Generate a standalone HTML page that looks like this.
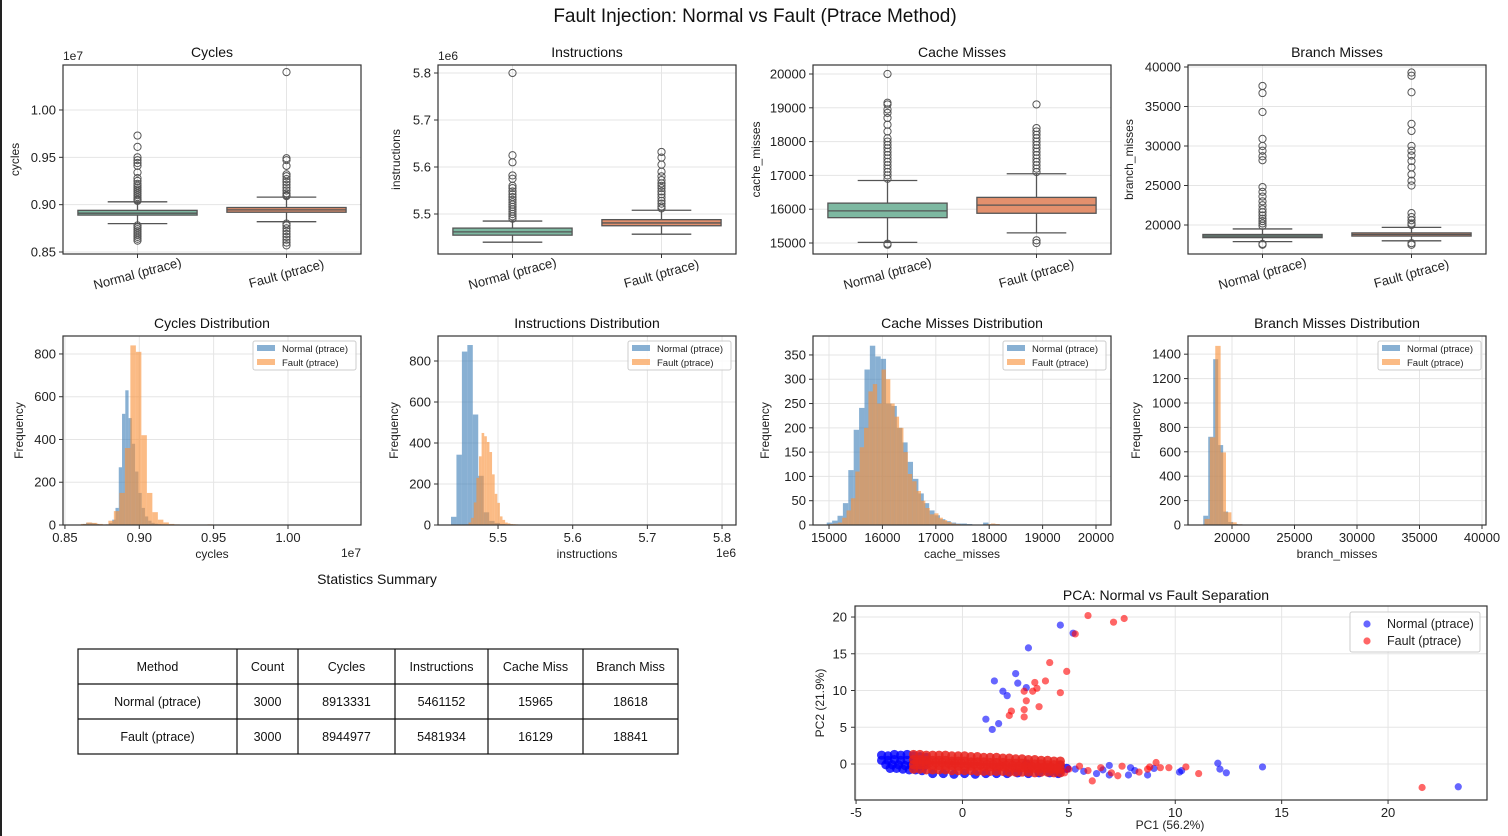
<!DOCTYPE html>
<html><head><meta charset="utf-8"><style>
body{margin:0;background:#fff;}
svg{display:block;font-family:"Liberation Sans",sans-serif;}
</style></head><body>
<svg id="chart" width="1508" height="836" viewBox="0 0 1508 836" xmlns="http://www.w3.org/2000/svg">
<rect x="0" y="0" width="1508" height="836" fill="#fff"/>
<rect x="0" y="0" width="2" height="836" fill="#222"/>
<text x="755" y="22" font-size="19" text-anchor="middle" fill="#111">Fault Injection: Normal vs Fault (Ptrace Method)</text>
<text x="377" y="584" font-size="14" text-anchor="middle" fill="#111">Statistics Summary</text>
</svg>
<script>
// ---------- DATA ----------
const boxTitles = ['Cycles','Instructions','Cache Misses','Branch Misses'];
const boxYLabels = ['cycles','instructions','cache_misses','branch_misses'];
const boxCategories = ['Normal (ptrace)','Fault (ptrace)'];
// [whiskerLow, q1, median, q3, whiskerHigh]
const cyclesNormalBox = [0.880,0.889,0.891,0.894,0.903];
const cyclesFaultBox = [0.882,0.892,0.8945,0.897,0.908];
const instrNormalBox = [5.440,5.455,5.462,5.470,5.485];
const instrFaultBox = [5.457,5.475,5.481,5.488,5.508];
const cacheNormalBox = [15020,15750,15950,16180,16850];
const cacheFaultBox = [15300,15880,16120,16350,17050];
const branchNormalBox = [17900,18400,18600,18800,19500];
const branchFaultBox = [18000,18600,18800,19000,19700];
const cyclesNormalOut = [0.973,0.961,0.950,0.947,0.944,0.941,0.934,0.928,0.925,0.922,0.920,0.918,0.916,0.914,0.912,0.910,0.908,0.906,0.905,0.904,0.878,0.876,0.874,0.872,0.870,0.868,0.866,0.864,0.862];
const cyclesFaultOut = [1.040,0.949,0.947,0.941,0.932,0.930,0.927,0.924,0.921,0.918,0.915,0.912,0.910,0.909,0.880,0.878,0.875,0.872,0.869,0.866,0.863,0.860,0.857];
const instrNormalOut = [5.800,5.625,5.610,5.582,5.575,5.560,5.555,5.548,5.542,5.536,5.530,5.525,5.520,5.515,5.510,5.505,5.500,5.495,5.490];
const instrFaultOut = [5.632,5.620,5.605,5.590,5.580,5.572,5.565,5.560,5.555,5.548,5.542,5.535,5.528,5.522,5.516,5.512];
const cacheNormalOut = [20000,19150,19100,18950,18850,18700,18500,18300,18100,18000,17900,17800,17700,17600,17500,17400,17300,17200,17100,17000,16900,14980,14950];
const cacheFaultOut = [19100,18400,18300,18200,18100,18000,17900,17800,17700,17600,17500,17400,17300,17200,17100,15080,15000];
const branchNormalOut = [37600,36700,34300,30900,30000,29400,28700,28200,24800,24200,23600,23000,22500,22000,21600,21200,20800,20500,20200,19900,17600,17500];
const branchFaultOut = [39300,38900,36800,32800,31900,30000,29400,28800,28100,27300,26400,25600,25000,21500,21000,20600,20200,20000,17700,17500];
const cyclesBoxTicks = [0.85,0.90,0.95,1.00];
const instrBoxTicks = [5.5,5.6,5.7,5.8];
const cacheBoxTicks = [15000,16000,17000,18000,19000,20000];
const branchBoxTicks = [20000,25000,30000,35000,40000];

const histTitles = ['Cycles Distribution','Instructions Distribution','Cache Misses Distribution','Branch Misses Distribution'];
const histSeriesNames = ['Normal (ptrace)','Fault (ptrace)'];
// [binStart, binWidth]
const cyclesNormalBins = [0.862,0.0022];
const cyclesNormalCounts = [5,10,10,8,5,3,2,3,10,25,80,270,520,630,500,380,250,150,80,40,20,10,6,4,3,2,2,1,1,1,0,0,0,0,0,0,0,0,1,0,1,0,0,0,0,0,0,0,0,1];
const cyclesFaultBins = [0.857,0.0037];
const cyclesFaultCounts = [0,5,12,10,5,3,20,65,150,360,840,810,420,150,60,25,12,5,3,2,1,1,1,2,3,1,0,0,0,0,0,0,0,0,0,0,0,0,0,0,0,0,0,0,0,0,0,0,0,1];
const instrNormalBins = [5.437,0.0073];
const instrNormalCounts = [40,343,846,878,539,240,62,20,10,5,3,2,1,1,1,1,1,0,1,0,0,0,1,0,0,0,0,0,0,0,0,0,0,0,0,0,0,0,0,0,0,0,0,0,0,0,0,0,0,1];
const instrFaultBins = [5.457,0.0035];
const instrFaultCounts = [3,12,35,110,230,335,449,433,405,356,247,152,108,42,25,12,8,5,4,3,2,2,1,1,1,1,1,1,0,1,0,0,0,1,0,0,0,0,1,0,0,0,0,0,0,0,0,0,0,1];
const cacheNormalBins = [14957,101];
const cacheNormalCounts = [5,9,19,45,113,196,241,320,369,347,342,250,245,200,170,130,95,65,45,30,20,12,8,5,3,3,2,1,1,5,1,0,0,0,0,0,0,0,0,0,1,0,0,0,0,0,0,0,0,1];
const cacheFaultBins = [15000,82];
const cacheFaultCounts = [2,3,5,15,30,55,110,160,200,275,290,250,320,300,250,223,200,150,105,90,70,50,35,22,24,15,10,6,3,2,1,1,1,1,1,1,2,3,2,1,1,0,0,0,0,0,0,0,0,1];
const branchNormalBins = [17700,398];
const branchNormalCounts = [76,723,1359,655,110,25,8,5,4,3,2,2,2,2,1,1,1,1,1,1,0,0,1,0,0,1,1,0,1,1,0,1,0,0,0,0,1,0,0,0,0,0,1,0,1,0,0,0,0,1];
const branchFaultBins = [17800,430];
const branchFaultCounts = [50,718,1468,595,104,22,6,4,3,2,2,2,1,1,1,1,1,1,1,1,0,1,0,1,1,1,0,1,1,0,0,1,0,0,0,0,0,0,0,0,0,0,0,0,0,0,1,0,0,1];
const cyclesHistXTicks = [0.85,0.90,0.95,1.00];
const instrHistXTicks = [5.5,5.6,5.7,5.8];
const cacheHistXTicks = [15000,16000,17000,18000,19000,20000];
const branchHistXTicks = [20000,25000,30000,35000,40000];
const cyclesHistYTicks = [0,200,400,600,800];
const instrHistYTicks = [0,200,400,600,800];
const cacheHistYTicks = [0,50,100,150,200,250,300,350];
const branchHistYTicks = [0,200,400,600,800,1000,1200,1400];

const tableHeader = ['Method','Count','Cycles','Instructions','Cache Miss','Branch Miss'];
const tableNormalRow = ['Normal (ptrace)','3000','8913331','5461152','15965','18618'];
const tableFaultRow = ['Fault (ptrace)','3000','8944977','5481934','16129','18841'];

const pcaXTicks = [-5,0,5,10,15,20];
const pcaYTicks = [0,5,10,15,20];
const pcaNormalOutlierCount = 31;
const pcaNormalX = [4.6,5.2,3.1,2.5,2.6,1.5,3.0,1.9,2.1,1.1,1.7,1.4,12.0,12.1,12.4,14.1,10.2,10.3,9.0,8.7,7.8,7.9,6.9,6.9,6.3,5.7,5.3,4.5,23.3,8.1,6.6,
 -3.8,-3.5,-3.2,-2.9,-2.6,-2.3,-2.0,-1.7,-3.8,-3.5,-3.2,-2.9,-2.6,-2.3,-2.0,-1.7,-3.6,-3.3,-3.0,-2.7,-2.4,-2.1,-1.8,-3.4,-3.1,-2.8,-2.5,-2.2,-1.9,
 -1.4,-0.9,-0.4,0.1,0.6,1.1,1.6,2.1,2.6,3.1,3.6,4.1,4.5,4.6,4.9,3.0,4.6];
const pcaNormalY = [18.9,17.8,15.8,12.3,11.0,11.3,10.4,9.9,9.3,6.1,5.5,4.7,0.1,-0.7,-1.2,-0.4,-1.1,-0.9,-0.6,-1.5,-1.5,-0.5,-1.5,-0.2,-1.3,-1.0,-0.7,-1.3,-3.1,-0.9,-0.8,
 1.2,1.1,1.3,1.2,1.3,1.1,1.0,0.9,0.5,0.5,0.6,0.5,0.5,0.4,0.3,0.3,-0.1,-0.1,-0.1,-0.2,-0.2,-0.3,-0.3,-0.6,-0.6,-0.7,-0.8,-0.8,-0.9,
 -1.3,-1.3,-1.4,-1.3,-1.4,-1.3,-1.3,-1.3,-1.2,-1.3,-1.2,-1.2,-1.3,-0.2,-0.6,0.0,-0.8];
const pcaFaultOutlierCount = 36;
const pcaFaultX = [5.9,7.1,7.6,5.3,4.1,4.9,3.4,3.9,3.3,3.5,2.9,3.0,4.6,3.6,2.9,2.9,2.3,2.2,21.6,11.1,10.5,9.7,9.3,9.1,8.8,8.7,8.3,7.5,7.3,7.0,6.1,6.5,5.9,5.5,5.0,4.8,
 -2.3,-2.0,-1.7,-1.4,-1.1,-0.8,-0.5,-0.2,0.1,0.4,0.7,1.0,1.3,1.6,1.9,2.2,2.5,2.8,3.1,3.4,3.7,4.0,4.3,4.6,
 -2.3,-2.0,-1.7,-1.4,-1.1,-0.8,-0.5,-0.2,0.1,0.4,0.7,1.0,1.3,1.6,1.9,2.2,2.5,2.8,3.1,3.4,3.7,4.0,4.3,4.6,
 -2.3,-2.0,-1.7,-1.4,-1.1,-0.8,-0.5,-0.2,0.1,0.4,0.7,1.0,1.3,1.6,1.9,2.2,2.5,2.8,3.1,3.4,3.7,4.0,4.3,4.6,
 -2.3,-2.0,-1.7,-1.4,-1.1,-0.8,-0.5,-0.2,0.1,0.4,0.7,1.0,1.3,1.6,1.9,2.2,2.5,2.8,3.1,3.4,3.7,4.0,4.3,4.6,
 -2.15,-1.85,-1.55,-1.25,-0.95,-0.65,-0.35,-0.05,0.25,0.55,0.85,1.15,1.45,1.75,2.05,2.35,2.65,2.95,3.25,3.55,3.85,4.15,4.45];
const pcaFaultY = [20.2,19.3,19.8,17.7,13.8,12.6,11.1,11.3,9.9,10.3,9.9,8.6,9.7,7.8,7.4,6.4,7.2,6.6,-3.2,-1.3,-0.4,-0.5,-0.5,0.2,-0.4,-0.7,-1.1,-0.3,-1.6,-1.2,-2.3,-0.5,-0.9,-0.3,-0.7,-1.2,
 1.3,1.3,1.2,1.2,1.2,1.2,1.1,1.1,1.1,1.0,1.0,0.9,0.9,0.9,0.8,0.8,0.7,0.7,0.6,0.6,0.5,0.5,0.4,0.4,
 0.6,0.6,0.5,0.5,0.5,0.5,0.4,0.4,0.4,0.3,0.3,0.3,0.2,0.2,0.2,0.1,0.1,0.1,0.0,0.0,0.0,-0.1,-0.1,-0.1,
 -0.1,-0.1,-0.1,-0.2,-0.2,-0.2,-0.2,-0.3,-0.3,-0.3,-0.3,-0.4,-0.4,-0.4,-0.4,-0.5,-0.5,-0.5,-0.6,-0.6,-0.6,-0.6,-0.7,-0.7,
 -0.7,-0.7,-0.8,-0.8,-0.8,-0.8,-0.9,-0.9,-0.9,-0.9,-1.0,-1.0,-1.0,-1.0,-1.0,-1.1,-1.1,-1.1,-1.1,-1.2,-1.1,-1.1,-1.2,-1.2,
 0.3,0.3,0.2,0.2,0.2,0.1,0.1,0.1,0.0,0.0,-0.1,-0.1,-0.1,-0.2,-0.2,-0.2,-0.3,-0.3,-0.3,-0.4,-0.4,-0.4,-0.5];

// ---------- LAYOUT ----------
const NS = 'http://www.w3.org/2000/svg';
const svg = document.getElementById('chart');
function mk(tag, attrs, parent){const e=document.createElementNS(NS,tag);for(const k in attrs)e.setAttribute(k,attrs[k]);(parent||svg).appendChild(e);return e;}
function lin(d0,d1,r0,r1){return v=>r0+(v-d0)/(d1-d0)*(r1-r0);}
const panelLefts = [63,438,813,1188];
const PW = 298;
const boxLim = [[0.8479,1.0475],[5.4149,5.817],[14675,20266],[16329,40253]];
const boxData = [
 [cyclesNormalBox,cyclesFaultBox,cyclesNormalOut,cyclesFaultOut,cyclesBoxTicks,v=>v.toFixed(2),'1e7'],
 [instrNormalBox,instrFaultBox,instrNormalOut,instrFaultOut,instrBoxTicks,v=>v.toFixed(1),'1e6'],
 [cacheNormalBox,cacheFaultBox,cacheNormalOut,cacheFaultOut,cacheBoxTicks,v=>String(v),''],
 [branchNormalBox,branchFaultBox,branchNormalOut,branchFaultOut,branchBoxTicks,v=>String(v),'']];
const boxColors = ['#7db8a1','#e3906d'];

boxData.forEach((bd,p)=>{
  const L=panelLefts[p], T=65, B=254;
  const g=mk('g',{});
  
  
  const sy=lin(boxLim[p][0],boxLim[p][1],B,T);
  const sx=i=>L+PW*(0.25+0.5*i);
  bd[4].forEach(t=>{
    const y=sy(t);
    const gl=mk('line',{x1:L,x2:L+PW,y1:y,y2:y,stroke:'#e5e5e5','stroke-width':1},g);
    
    
    mk('line',{x1:L-4,x2:L,y1:y,y2:y,stroke:'#333'},g);
    const tl=mk('text',{x:L-7,y:y+4.5,'font-size':13,'text-anchor':'end',fill:'#222'},g);
    tl.textContent=bd[5](t);
    
    
  });
  [0,1].forEach(i=>{
    const cx=sx(i);
    mk('line',{x1:cx,x2:cx,y1:T,y2:B,stroke:'#e5e5e5'},g);
    mk('line',{x1:cx,x2:cx,y1:B,y2:B+4,stroke:'#333'},g);
    const st=bd[i], hw=PW*0.2, cw=PW*0.1;
    mk('line',{x1:cx,x2:cx,y1:sy(st[0]),y2:sy(st[1]),stroke:'#555','stroke-width':1.3},g);
    mk('line',{x1:cx,x2:cx,y1:sy(st[3]),y2:sy(st[4]),stroke:'#555','stroke-width':1.3},g);
    mk('line',{x1:cx-cw,x2:cx+cw,y1:sy(st[0]),y2:sy(st[0]),stroke:'#555','stroke-width':1.3},g);
    mk('line',{x1:cx-cw,x2:cx+cw,y1:sy(st[4]),y2:sy(st[4]),stroke:'#555','stroke-width':1.3},g);
    const bx=mk('rect',{x:cx-hw,y:sy(st[3]),width:2*hw,height:Math.max(1,sy(st[1])-sy(st[3])),fill:boxColors[i],stroke:'#555','stroke-width':1.3},g);
    
    
    mk('line',{x1:cx-hw,x2:cx+hw,y1:sy(st[2]),y2:sy(st[2]),stroke:'#555','stroke-width':1.3},g);
    bd[2+i].forEach(v=>{
      const c=mk('circle',{cx:cx,cy:sy(v),r:3.6,fill:'none',stroke:'#555','stroke-width':1},g);
      
      
    });
    const xl=mk('text',{x:cx,y:B+24,'font-size':13,'text-anchor':'middle',fill:'#222',transform:`rotate(-15 ${cx} ${B+20})`},g);
    xl.textContent=boxCategories[i];
    
    
  });
  mk('rect',{x:L,y:T,width:PW,height:B-T,fill:'none',stroke:'#333','stroke-width':1.2},g);
  const tt=mk('text',{x:L+PW/2,y:T-8,'font-size':14,'text-anchor':'middle',fill:'#111'},g);
  tt.textContent=boxTitles[p];
  
  
  const yl=mk('text',{x:0,y:0,'font-size':12,'text-anchor':'middle',fill:'#222',transform:`translate(${L-(p==0?44:p==1?38:p==2?53:55)},${(T+B)/2}) rotate(-90)`},g);
  yl.textContent=boxYLabels[p];
  
  
  if(bd[6]){const o=mk('text',{x:L,y:T-5,'font-size':12,fill:'#222'},g);o.textContent=bd[6];
    
    }
});

// ---------- HISTOGRAMS ----------
const histXLim=[[0.8487,1.0491],[5.4196,5.8187],[14700,20281],[16480,40320]];
const histYLim=[[0,884],[0,922],[0,389],[0,1549]];
const histData=[
 [cyclesNormalBins,cyclesNormalCounts,cyclesFaultBins,cyclesFaultCounts,cyclesHistXTicks,cyclesHistYTicks,v=>v.toFixed(2),'cycles','1e7'],
 [instrNormalBins,instrNormalCounts,instrFaultBins,instrFaultCounts,instrHistXTicks,instrHistYTicks,v=>v.toFixed(1),'instructions','1e6'],
 [cacheNormalBins,cacheNormalCounts,cacheFaultBins,cacheFaultCounts,cacheHistXTicks,cacheHistYTicks,v=>String(v),'cache_misses',''],
 [branchNormalBins,branchNormalCounts,branchFaultBins,branchFaultCounts,branchHistXTicks,branchHistYTicks,v=>String(v),'branch_misses','']];
const histColors=['#3f7fb8','#f8923a'];
histData.forEach((hd,p)=>{
  const L=panelLefts[p],T=336,B=525;
  const g=mk('g',{});
  
  
  const sx=lin(histXLim[p][0],histXLim[p][1],L,L+PW);
  const sy=lin(histYLim[p][0],histYLim[p][1],B,T);
  hd[5].forEach(t=>{const y=sy(t);
    mk('line',{x1:L,x2:L+PW,y1:y,y2:y,stroke:'#e5e5e5'},g);
    mk('line',{x1:L-4,x2:L,y1:y,y2:y,stroke:'#333'},g);
    const tl=mk('text',{x:L-7,y:y+4.5,'font-size':13,'text-anchor':'end',fill:'#222'},g);
    tl.textContent=String(t);
    
    });
  hd[4].forEach(t=>{const x=sx(t);
    mk('line',{x1:x,x2:x,y1:T,y2:B,stroke:'#e5e5e5'},g);
    mk('line',{x1:x,x2:x,y1:B,y2:B+4,stroke:'#333'},g);
    const tl=mk('text',{x:x,y:B+17,'font-size':13,'text-anchor':'middle',fill:'#222'},g);
    tl.textContent=hd[6](t);
    
    });
  [0,1].forEach(s=>{
    const bins=hd[s*2], counts=hd[s*2+1];
    counts.forEach((c,i)=>{ if(c<=0) return;
      const x0=sx(bins[0]+i*bins[1]), x1=sx(bins[0]+(i+1)*bins[1]);
      const r=mk('rect',{x:x0,y:sy(c),width:Math.max(0.5,x1-x0),height:B-sy(c),fill:histColors[s],'fill-opacity':0.62},g);
      
      
    });
  });
  mk('rect',{x:L,y:T,width:PW,height:B-T,fill:'none',stroke:'#333','stroke-width':1.2},g);
  const tt=mk('text',{x:L+PW/2,y:T-8,'font-size':14,'text-anchor':'middle',fill:'#111'},g);
  tt.textContent=histTitles[p];
  
  
  const xl=mk('text',{x:L+PW/2,y:B+33,'font-size':12,'text-anchor':'middle',fill:'#222'},g);
  xl.textContent=hd[7];
  
  
  const yl=mk('text',{x:0,y:0,'font-size':12,'text-anchor':'middle',fill:'#222',transform:`translate(${L-(p==0?40:p==1?40:p==2?44:48)},${(T+B)/2}) rotate(-90)`},g);
  yl.textContent='Frequency';
  
  
  if(hd[8]){const o=mk('text',{x:L+PW,y:B+32,'font-size':12,'text-anchor':'end',fill:'#222'},g);o.textContent=hd[8];
    
    }
  const lg=mk('g',{},g);
  
  
  const LX=L+PW-108;
  mk('rect',{x:LX,y:T+5,width:103,height:29,fill:'#fff','fill-opacity':0.85,stroke:'#ccc',rx:2},lg);
  [0,1].forEach(s=>{
    mk('rect',{x:LX+4,y:T+9+s*14,width:18,height:6,fill:histColors[s],'fill-opacity':0.62},lg);
    const t=mk('text',{x:LX+29,y:T+16+s*14,'font-size':9.5,fill:'#222'},lg);
    t.textContent=histSeriesNames[s];
    
    
  });
});

// ---------- TABLE ----------
(function(){
  const g=mk('g',{});
  
  
  const cols=[78,237,298,395,488,583,678], rows=[649,684,719,754];
  mk('rect',{x:78,y:649,width:600,height:105,fill:'#fff',stroke:'#111','stroke-width':1.2},g);
  rows.slice(1,3).forEach(y=>mk('line',{x1:78,x2:678,y1:y,y2:y,stroke:'#111','stroke-width':1.2},g));
  cols.slice(1,6).forEach(x=>mk('line',{x1:x,x2:x,y1:649,y2:754,stroke:'#111','stroke-width':1.2},g));
  [tableHeader,tableNormalRow,tableFaultRow].forEach((row,r)=>{
    row.forEach((v,c)=>{
      const t=mk('text',{x:(cols[c]+cols[c+1])/2,y:rows[r]+22,'font-size':12.5,'text-anchor':'middle',fill:'#111'},g);
      t.textContent=v;
      
      
    });
  });
})();

// ---------- PCA ----------
(function(){
  const L=855,R=1487,T=606,B=800;
  const g=mk('g',{});
  
  
  const sx=lin(-5.05,24.65,L,R), sy=lin(-4.9,21.5,B,T);
  pcaYTicks.forEach(t=>{const y=sy(t);
    mk('line',{x1:L,x2:R,y1:y,y2:y,stroke:'#e5e5e5'},g);
    mk('line',{x1:L-4,x2:L,y1:y,y2:y,stroke:'#333'},g);
    const tl=mk('text',{x:L-8,y:y+4.5,'font-size':13,'text-anchor':'end',fill:'#222'},g);
    tl.textContent=String(t);
    
    });
  pcaXTicks.forEach(t=>{const x=sx(t);
    mk('line',{x1:x,x2:x,y1:T,y2:B,stroke:'#e5e5e5'},g);
    mk('line',{x1:x,x2:x,y1:B,y2:B+4,stroke:'#333'},g);
    const tl=mk('text',{x:x,y:B+17,'font-size':13,'text-anchor':'middle',fill:'#222'},g);
    tl.textContent=String(t);
    
    });
  pcaNormalX.forEach((x,i)=>{
    const core=i>=pcaNormalOutlierCount;
    const c=mk('circle',{cx:sx(x),cy:sy(pcaNormalY[i]),r:core?4.6:3.6,fill:'#0000ff','fill-opacity':core?0.8:0.6},g);
    
    
  });
  pcaFaultX.forEach((x,i)=>{
    const core=i>=pcaFaultOutlierCount;
    const c=mk('circle',{cx:sx(x),cy:sy(pcaFaultY[i]),r:core?4.6:3.6,fill:core?'#e8231d':'#ff0000','fill-opacity':core?0.85:0.6},g);
    
    
  });
  mk('rect',{x:L,y:T,width:R-L,height:B-T,fill:'none',stroke:'#333','stroke-width':1.2},g);
  const tt=mk('text',{x:(L+R)/2-5,y:T-6,'font-size':14,'text-anchor':'middle',fill:'#111'},g);
  tt.textContent='PCA: Normal vs Fault Separation';
  
  
  const xl=mk('text',{x:1170,y:B+29,'font-size':12,'text-anchor':'middle',fill:'#222'},g);
  xl.textContent='PC1 (56.2%)';
  
  
  const yl=mk('text',{x:0,y:0,'font-size':12,'text-anchor':'middle',fill:'#222',transform:`translate(824,${(T+B)/2}) rotate(-90)`},g);
  yl.textContent='PC2 (21.9%)';
  
  
  const lg=mk('g',{},g);
  
  
  mk('rect',{x:1350,y:612,width:130,height:40,fill:'#fff','fill-opacity':0.85,stroke:'#ccc',rx:2},lg);
  [['Normal (ptrace)','#0000ff'],['Fault (ptrace)','#ff0000']].forEach((e,i)=>{
    mk('circle',{cx:1367,cy:624+i*17,r:3.6,fill:e[1],'fill-opacity':0.6},lg);
    const t=mk('text',{x:1387,y:628+i*17,'font-size':12.5,fill:'#222'},lg);
    t.textContent=e[0];
    
    
  });
})();
</script>
</body></html>
